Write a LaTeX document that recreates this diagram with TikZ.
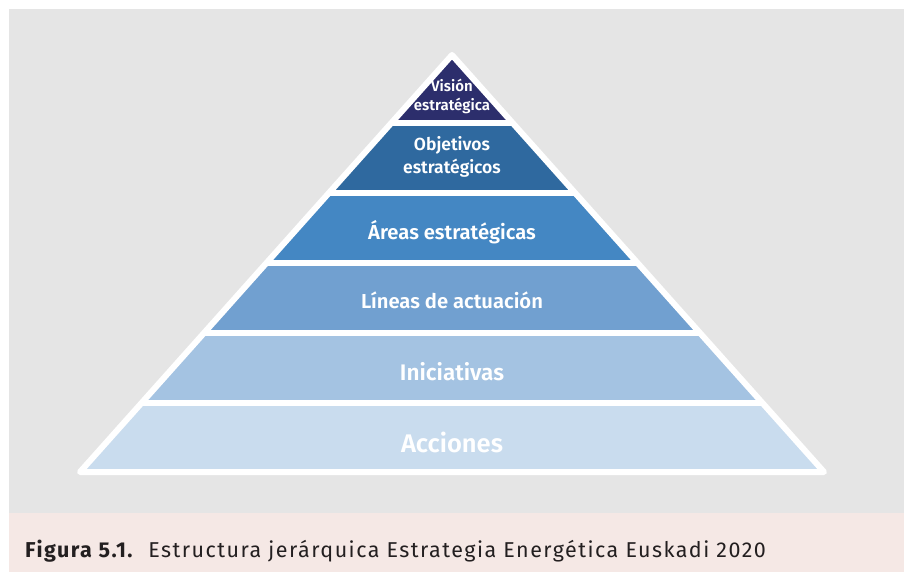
\documentclass[tikz,border=0pt]{standalone}
\usepackage{fontspec}
\setmainfont{Fira Sans}
\newfontfamily\labfont[BoldFont={* SemiBold}]{Fira Sans}
\newfontfamily\capfont[LetterSpace=6.8]{Fira Sans}
\definecolor{bggray}{HTML}{E5E5E5}
\definecolor{bgpink}{HTML}{F5E8E5}
\definecolor{cA}{HTML}{2C2E6C}
\definecolor{cB}{HTML}{2F699F}
\definecolor{cC}{HTML}{4487C3}
\definecolor{cD}{HTML}{71A0D0}
\definecolor{cE}{HTML}{A4C3E2}
\definecolor{cF}{HTML}{C9DCEE}
\definecolor{captext}{HTML}{231F20}
\begin{document}
\begin{tikzpicture}[x=1pt,y=-1pt,
  lab/.style={text=white,font=\labfont\bfseries,inner sep=0pt,align=center},
  sep/.style={white,line width=6pt}]
\useasboundingbox (0,0) rectangle (904,572);
\fill[bggray] (9,9) rectangle (904,513);
\fill[bgpink] (9,513) rectangle (904,572);
% pyramid
\coordinate (apex) at (452,55);
\coordinate (bl) at (80,472);
\coordinate (br) at (824,472);
\begin{scope}
  \clip (apex) -- (bl) -- (br) -- cycle;
  \fill[cA] (70,40) rectangle (834,123);
  \fill[cB] (70,123) rectangle (834,193);
  \fill[cC] (70,193) rectangle (834,263);
  \fill[cD] (70,263) rectangle (834,333);
  \fill[cE] (70,333) rectangle (834,403);
  \fill[cF] (70,403) rectangle (834,480);
  \foreach \yy in {123,193,263,333,403}
    \draw[sep] (70,\yy) -- (834,\yy);
\end{scope}
\draw[sep,line join=round] (apex) -- (bl) -- (br) -- cycle;
% labels
\node[lab,font=\labfont\bfseries\fontsize{15}{19.5}\selectfont] (vision) at (452,96.5) {Visión\\estratégica};
\node[lab,font=\labfont\bfseries\fontsize{17.5}{23}\selectfont] (objetivos) at (452,157) {Objetivos\\estratégicos};
\node[lab,font=\labfont\bfseries\fontsize{20.2}{22}\selectfont] (areas) at (452,232) {Áreas estratégicas};
\node[lab,font=\labfont\bfseries\fontsize{20.2}{22}\selectfont] (lineas) at (452,300) {Líneas de actuación};
\node[lab,font=\labfont\bfseries\fontsize{22.5}{24}\selectfont] (inic) at (452,372) {Iniciativas};
\node[lab,font=\labfont\bfseries\fontsize{25.5}{27}\selectfont] (acc) at (452,442) {Acciones};
% caption
\node[anchor=base west,inner sep=0pt,text=captext,font=\capfont\fontsize{21.5}{23}\selectfont] (cap) at (25,557) {\textbf{Figura 5.1.}\ \ Estructura jerárquica Estrategia Energética Euskadi 2020};
\end{tikzpicture}
\end{document}
